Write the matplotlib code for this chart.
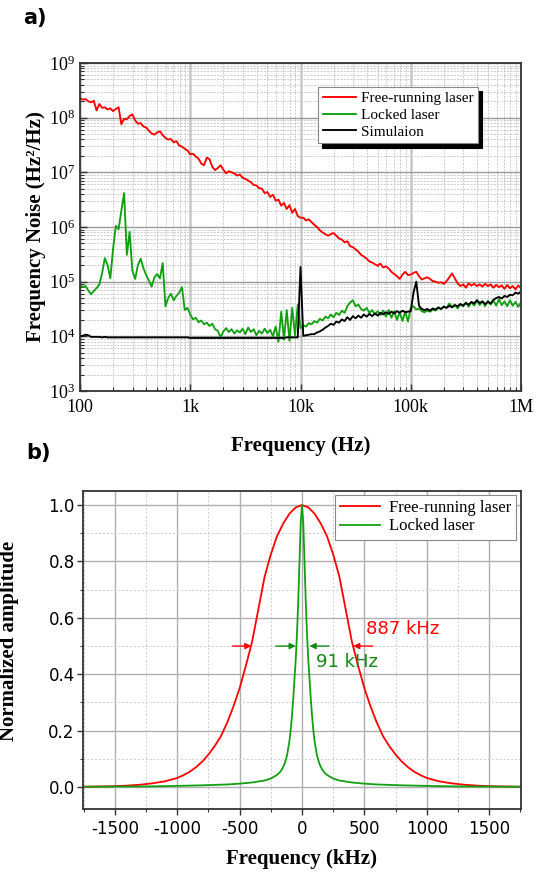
import numpy as np
import matplotlib
matplotlib.use("Agg")
import matplotlib.pyplot as plt
from matplotlib.ticker import LogLocator, MultipleLocator, FixedLocator, NullFormatter

plt.rcParams['font.family'] = ['Liberation Serif', 'DejaVu Serif']
plt.rcParams['mathtext.fontset'] = 'custom'
plt.rcParams['mathtext.rm'] = 'Liberation Serif'
plt.rcParams['mathtext.it'] = 'Liberation Serif:italic'
plt.rcParams['mathtext.bf'] = 'Liberation Serif:bold'
plt.rcParams['axes.unicode_minus'] = False

# ---- panel a: frequency noise spectra (log10 values on a log10 frequency grid)
log_freq = np.linspace(2.0, 6.0, 161)   # 100 Hz .. 1 MHz, step 0.025 decade

free_log = [
    8.36, 8.33, 8.34, 8.30, 8.28, 8.31, 8.13, 8.25, 8.18, 8.19,   # 2.000
    8.15, 8.17, 8.12, 8.16, 8.19, 7.88, 7.98, 7.97, 8.03, 8.06,   # 2.250
    7.95, 7.89, 7.90, 7.84, 7.82, 7.76, 7.71, 7.69, 7.73, 7.75,   # 2.500
    7.68, 7.63, 7.60, 7.61, 7.55, 7.57, 7.49, 7.47, 7.43, 7.40,   # 2.750
    7.33, 7.34, 7.29, 7.25, 7.16, 7.13, 7.27, 7.24, 7.10, 7.04,   # 3.000
    7.08, 7.13, 7.05, 6.98, 7.02, 7.00, 6.98, 6.94, 6.96, 6.90,   # 3.250
    6.88, 6.85, 6.82, 6.77, 6.76, 6.71, 6.70, 6.62, 6.64, 6.55,   # 3.500
    6.59, 6.48, 6.50, 6.39, 6.44, 6.33, 6.40, 6.26, 6.33, 6.20,   # 3.750
    6.17, 6.17, 6.12, 6.14, 6.09, 6.04, 6.00, 5.94, 5.90, 5.87,   # 4.000
    5.84, 5.87, 5.89, 5.84, 5.79, 5.77, 5.72, 5.74, 5.65, 5.63,   # 4.250
    5.59, 5.55, 5.49, 5.46, 5.42, 5.37, 5.35, 5.32, 5.29, 5.33,   # 4.500
    5.26, 5.28, 5.24, 5.18, 5.14, 5.10, 5.05, 5.13, 5.18, 5.12,   # 4.750
    5.13, 5.16, 5.18, 5.10, 5.04, 5.06, 5.08, 5.05, 5.01, 5.00,   # 5.000
    4.98, 4.99, 4.96, 5.01, 5.08, 5.15, 5.06, 4.97, 4.92, 4.95,   # 5.250
    4.89, 4.97, 4.93, 4.96, 4.92, 4.95, 4.91, 4.96, 4.92, 4.95,   # 5.500
    4.89, 4.94, 4.90, 4.93, 4.87, 4.94, 4.88, 4.92, 4.86, 4.93,   # 5.750
    4.88]

locked_log = [
    4.94, 4.90, 4.92, 4.84, 4.77, 4.83, 4.88, 4.95, 5.15, 5.43,   # 2.000
    5.30, 5.06, 5.60, 6.02, 5.96, 6.30, 6.62, 5.49, 5.91, 5.20,   # 2.250
    5.05, 5.30, 5.42, 5.25, 5.12, 5.02, 4.91, 5.08, 5.14, 5.06,   # 2.500
    5.34, 4.55, 4.70, 4.78, 4.66, 4.74, 4.80, 4.90, 4.48, 4.52,   # 2.750
    4.40, 4.31, 4.34, 4.26, 4.29, 4.22, 4.25, 4.19, 4.23, 4.13,   # 3.000
    4.10, 3.98, 4.09, 4.15, 4.08, 4.13, 4.05, 4.11, 4.07, 4.14,   # 3.250
    4.04, 4.16, 4.08, 4.13, 4.02, 4.10, 4.05, 4.14, 4.06, 4.12,   # 3.500
    4.00, 4.18, 3.90, 4.45, 3.94, 4.48, 3.92, 4.52, 4.02, 4.58,   # 3.750
    4.15, 4.20, 4.18, 4.24, 4.22, 4.28, 4.25, 4.32, 4.29, 4.36,   # 4.000
    4.33, 4.40, 4.35, 4.43, 4.39, 4.47, 4.43, 4.55, 4.62, 4.66,   # 4.250
    4.55, 4.58, 4.50, 4.47, 4.52, 4.43, 4.48, 4.40, 4.46, 4.39,   # 4.500
    4.47, 4.36, 4.48, 4.34, 4.46, 4.30, 4.44, 4.28, 4.45, 4.27,   # 4.750
    4.52, 4.55, 4.49, 4.51, 4.46, 4.44, 4.47, 4.45, 4.49, 4.47,   # 5.000
    4.52, 4.50, 4.55, 4.52, 4.60, 4.54, 4.58, 4.51, 4.59, 4.55,   # 5.250
    4.62, 4.54, 4.63, 4.56, 4.66, 4.57, 4.64, 4.55, 4.65, 4.58,   # 5.500
    4.66, 4.56, 4.68, 4.57, 4.64, 4.55, 4.66, 4.56, 4.63, 4.54,   # 5.750
    4.62]

sim_log = [
    4.00, 4.01, 4.03, 4.02, 3.99, 3.99, 3.99, 3.99, 3.98, 3.99,   # 2.000
    3.98, 3.98, 3.98, 3.98, 3.98, 3.98, 3.98, 3.98, 3.98, 3.98,   # 2.250
    3.98, 3.98, 3.98, 3.98, 3.98, 3.98, 3.98, 3.98, 3.98, 3.98,   # 2.500
    3.98, 3.98, 3.98, 3.98, 3.98, 3.98, 3.98, 3.98, 3.98, 3.98,   # 2.750
    3.97, 3.97, 3.97, 3.97, 3.97, 3.97, 3.97, 3.97, 3.97, 3.97,   # 3.000
    3.97, 3.97, 3.97, 3.97, 3.97, 3.97, 3.97, 3.97, 3.97, 3.97,   # 3.250
    3.97, 3.97, 3.97, 3.97, 3.97, 3.97, 3.97, 3.97, 3.97, 3.97,   # 3.500
    3.97, 3.97, 3.97, 3.97, 3.97, 3.98, 3.98, 3.98, 3.98, 3.98,   # 3.750
    5.27, 4.01, 4.02, 4.03, 4.04, 4.04, 4.07, 4.09, 4.12, 4.16,   # 4.000
    4.19, 4.23, 4.21, 4.27, 4.25, 4.31, 4.28, 4.35, 4.30, 4.37,   # 4.250
    4.33, 4.38, 4.34, 4.40, 4.36, 4.41, 4.37, 4.42, 4.38, 4.43,   # 4.500
    4.40, 4.44, 4.41, 4.45, 4.42, 4.46, 4.43, 4.47, 4.44, 4.45,   # 4.750
    4.46, 4.80, 5.00, 4.56, 4.50, 4.48, 4.50, 4.47, 4.51, 4.49,   # 5.000
    4.53, 4.50, 4.54, 4.52, 4.56, 4.53, 4.57, 4.55, 4.59, 4.56,   # 5.250
    4.61, 4.58, 4.63, 4.60, 4.66, 4.61, 4.64, 4.59, 4.63, 4.60,   # 5.500
    4.67, 4.70, 4.72, 4.69, 4.74, 4.72, 4.76, 4.75, 4.80, 4.78,   # 5.750
    4.82]

xtick_vals = [1e2, 1e3, 1e4, 1e5, 1e6]
xtick_labels = ['100', '1k', '10k', '100k', '1M']
ytick_vals = [1e3, 1e4, 1e5, 1e6, 1e7, 1e8, 1e9]
ytick_labels = [r'$10^{3}$', r'$10^{4}$', r'$10^{5}$', r'$10^{6}$',
                r'$10^{7}$', r'$10^{8}$', r'$10^{9}$']

# ---- panel b: normalized line shapes (positive half, mirrored)
free_khz = [0, 50, 100, 150, 200, 250, 300, 350, 400, 450, 500, 550, 600, 650,
            700, 750, 800, 850, 900, 950, 1000, 1100, 1200, 1300, 1400, 1500,
            1600, 1750]
free_amp = [1.000, 0.992, 0.970, 0.935, 0.890, 0.825, 0.745, 0.630, 0.515,
            0.430, 0.350, 0.285, 0.228, 0.180, 0.145, 0.115, 0.090, 0.070,
            0.054, 0.042, 0.032, 0.020, 0.013, 0.008, 0.005, 0.003, 0.002,
            0.001]
locked_khz = [0, 10, 20, 30, 40, 50, 60, 70, 80, 90, 100, 120, 140, 160, 180,
              200, 250, 300, 400, 500, 600, 800, 1000, 1250, 1500, 1750]
locked_amp = [1.000, 0.940, 0.800, 0.660, 0.545, 0.455, 0.385, 0.315, 0.255,
              0.205, 0.165, 0.112, 0.082, 0.063, 0.051, 0.043, 0.030, 0.023,
              0.016, 0.012, 0.009, 0.006, 0.004, 0.002, 0.0015, 0.001]
free_label = '887 kHz'
locked_label = '91 kHz'


def mirror(x, y):
    x = np.asarray(x, float)
    y = np.asarray(y, float)
    return np.concatenate([-x[:0:-1], x]), np.concatenate([y[:0:-1], y])


RED = '#ff0000'
GREEN = '#12a012'

fig = plt.figure(figsize=(5.48, 8.76), dpi=100)
W, H = 548.0, 876.0

# ================= panel a =================
ax1 = fig.add_axes([80 / W, 1 - 391 / H, 441 / W, 328 / H])
f = 10 ** log_freq
ax1.plot(f, 10 ** np.array(free_log), color=RED, lw=1.35, label='Free-running laser')
ax1.plot(f, 10 ** np.array(locked_log), color=GREEN, lw=1.35, label='Locked laser')
ax1.plot(f, 10 ** np.array(sim_log), color='black', lw=1.35, label='Simulaion')
ax1.set_xscale('log')
ax1.set_yscale('log')
ax1.set_xlim(1e2, 1e6)
ax1.set_ylim(1e3, 1e9)
ax1.xaxis.set_minor_locator(LogLocator(base=10, subs=np.arange(2, 10), numticks=30))
ax1.yaxis.set_minor_locator(LogLocator(base=10, subs=np.arange(2, 10), numticks=30))
ax1.xaxis.set_minor_formatter(NullFormatter())
ax1.yaxis.set_minor_formatter(NullFormatter())
ax1.set_xticks(xtick_vals, xtick_labels)
ax1.set_yticks(ytick_vals, ytick_labels)
ax1.tick_params(which='both', direction='in', top=False, right=False,
                labelsize=13, color='#333333')
ax1.tick_params(which='major', length=5, width=1)
ax1.tick_params(which='minor', length=3, width=0.8)
ax1.tick_params(axis='x', pad=6)
ax1.xaxis.grid(True, which='major', color='#c8c8c8', lw=1.8)
ax1.yaxis.grid(True, which='major', color='#9a9a9a', lw=1.0)
ax1.grid(True, which='minor', color='#c4c4c4', lw=0.6, ls=(0, (2.5, 1.5)))
ax1.set_axisbelow(True)
for s in ax1.spines.values():
    s.set_linewidth(1.3)
    s.set_color('#333333')
ax1.set_xlabel('Frequency (Hz)', fontsize=15, fontweight='bold', labelpad=14)
ax1.set_ylabel('Frequency Noise (Hz²/Hz)', fontsize=15, fontweight='bold', labelpad=2)
leg1 = ax1.legend(loc='upper left', bbox_to_anchor=(318 / W, 1 - 87 / H),
                  bbox_transform=fig.transFigure, borderaxespad=0,
                  fontsize=11, frameon=True, fancybox=False,
                  shadow={'color': 'black', 'alpha': 1, 'ox': 3, 'oy': -3},
                  handlelength=2.2, handletextpad=0.3, labelspacing=0.2,
                  borderpad=0.3)
leg1.get_frame().set_edgecolor('#888888')
leg1.get_frame().set_linewidth(0.8)
leg1.get_frame().set_alpha(1)

fig.text(23 / W, 1 - 18 / H, 'a)', fontsize=15, fontweight='bold',
         family='DejaVu Sans', va='center', ha='left')

# ================= panel b =================
ax2 = fig.add_axes([83 / W, 1 - 809 / H, 438 / W, 318 / H])
xf, yf = mirror(free_khz, free_amp)
xl, yl = mirror(locked_khz, locked_amp)
ax2.plot(xf, yf, color=RED, lw=1.3, label='Free-running laser')
ax2.plot(xl, yl, color=GREEN, lw=1.3, label='Locked laser')
ax2.set_xlim(-1755, 1755)
ax2.set_ylim(-0.078, 1.05)
ax2.xaxis.set_major_locator(FixedLocator([-1500, -1000, -500, 0, 500, 1000, 1500]))
ax2.xaxis.set_minor_locator(MultipleLocator(250))
ax2.yaxis.set_major_locator(FixedLocator([0.0, 0.2, 0.4, 0.6, 0.8, 1.0]))
ax2.yaxis.set_minor_locator(MultipleLocator(0.1))
ax2.set_xticklabels(['-1500', '-1000', '-500', '0', '500', '1000', '1500'])
ax2.set_yticklabels(['0.0', '0.2', '0.4', '0.6', '0.8', '1.0'])
for lab in ax2.get_xticklabels() + ax2.get_yticklabels():
    lab.set_family('DejaVu Sans')
ax2.tick_params(which='both', direction='out', top=False, right=False,
                labelsize=12, color='#333333')
ax2.tick_params(which='major', length=4, width=1)
ax2.tick_params(which='minor', length=2.5, width=0.8)
ax2.tick_params(axis='y', pad=2)
ax2.tick_params(axis='x', pad=4)
ax2.grid(True, which='major', color='#b0b0b0', lw=1.0)
ax2.grid(True, which='minor', color='#cccccc', lw=0.7, ls=(0, (2, 2)))
ax2.set_axisbelow(True)
for s in ax2.spines.values():
    s.set_linewidth(1.3)
    s.set_color('#333333')
ax2.set_xlabel('Frequency (kHz)', fontsize=15, fontweight='bold', labelpad=8)
ax2.set_ylabel('Normalized amplitude', fontsize=15, fontweight='bold')
ax2.yaxis.set_label_coords(-0.146, 0.53)
leg2 = ax2.legend(loc='upper right', bbox_to_anchor=(516 / W, 1 - 495 / H),
                  bbox_transform=fig.transFigure, borderaxespad=0,
                  fontsize=12, frameon=True, fancybox=False,
                  handlelength=2.4, handletextpad=0.5, labelspacing=0.15,
                  borderpad=0.3)
leg2.get_frame().set_edgecolor('#888888')
leg2.get_frame().set_linewidth(0.8)
leg2.get_frame().set_alpha(1)

arrow_kw = dict(arrowstyle='-|>', lw=1.0, mutation_scale=9, shrinkA=0, shrinkB=0)
ax2.annotate('', xy=(-405, 0.5), xytext=(-555, 0.5),
             arrowprops=dict(color=RED, **arrow_kw))
ax2.annotate('', xy=(410, 0.5), xytext=(566, 0.5),
             arrowprops=dict(color=RED, **arrow_kw))
ax2.annotate('', xy=(-50, 0.5), xytext=(-210, 0.5),
             arrowprops=dict(color='#108a10', **arrow_kw))
ax2.annotate('', xy=(60, 0.5), xytext=(216, 0.5),
             arrowprops=dict(color='#108a10', **arrow_kw))
ax2.text(515, 0.562, free_label, color=RED, fontsize=13, family='DejaVu Sans',
         ha='left', va='center')
ax2.text(110, 0.445, locked_label, color='#108a10', fontsize=13,
         family='DejaVu Sans', ha='left', va='center')

fig.text(26 / W, 1 - 453 / H, 'b)', fontsize=15, fontweight='bold',
         family='DejaVu Sans', va='center', ha='left')

fig.savefig('out.png', dpi=100)
